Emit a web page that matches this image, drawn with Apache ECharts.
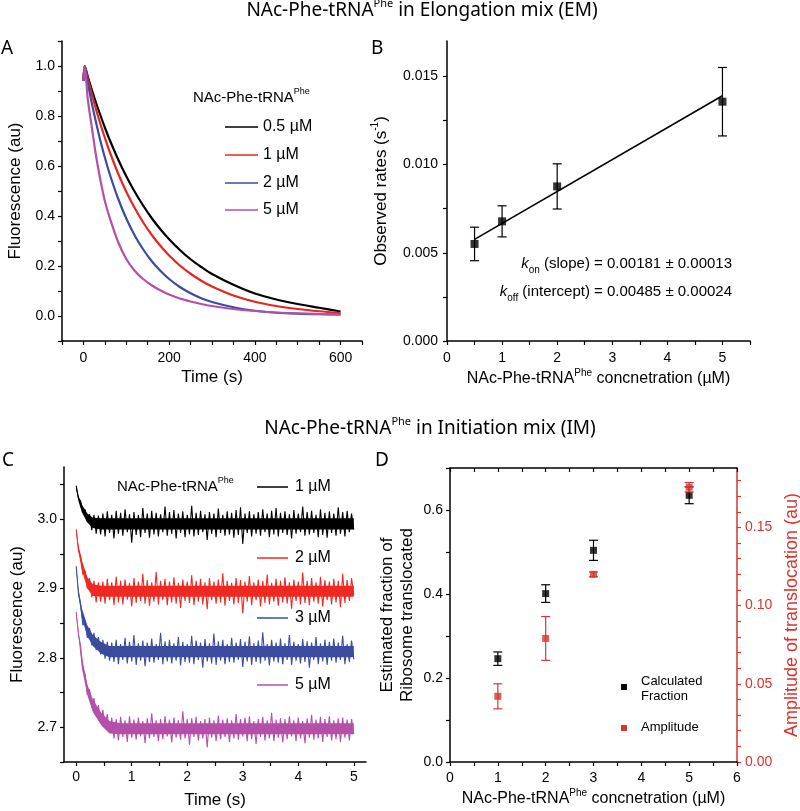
<!DOCTYPE html>
<html><head><meta charset="utf-8">
<script src="https://cdn.jsdelivr.net/npm/echarts@6/dist/echarts.min.js"></script>
<style>html,body{margin:0;padding:0;background:#fff}#c{width:800px;height:811px}</style>
</head><body><div id="c"></div>
<script>
// ---------- Panel A : EM fluorescence decays ----------
const aTimes = [0,3,10,20,30,40,50,60,80,100,120,140,160,180,200,225,250,275,300,350,400,450,500,550,600];
const aConc05 = [0.94,1.0,0.959,0.903,0.850,0.801,0.754,0.710,0.630,0.559,0.496,0.440,0.390,0.346,0.307,0.264,0.227,0.196,0.168,0.125,0.090,0.066,0.048,0.033,0.018];
const aConc1  = [0.94,1.0,0.951,0.885,0.823,0.766,0.713,0.663,0.574,0.497,0.431,0.373,0.323,0.280,0.242,0.202,0.169,0.141,0.118,0.082,0.057,0.040,0.028,0.019,0.012];
const aConc2  = [0.94,1.0,0.934,0.848,0.770,0.698,0.634,0.575,0.474,0.390,0.321,0.265,0.218,0.180,0.148,0.116,0.091,0.071,0.056,0.035,0.021,0.013,0.009,0.007,0.006];
const aConc5  = [0.94,1.0,0.87,0.75,0.635,0.54,0.46,0.40,0.30,0.228,0.180,0.147,0.122,0.102,0.086,0.070,0.058,0.048,0.040,0.028,0.020,0.014,0.011,0.008,0.006];
const aXLabels = [0,200,400,600];
const aYLabels = [0,0.2,0.4,0.6,0.8,1.0];

// ---------- Panel B : observed rates ----------
const bConc = [0.5,1,2,5];
const bRate = [0.0055,0.00678,0.00876,0.01356];
const bErr  = [0.00095,0.00088,0.00128,0.00194];
const bFitX = [0.5,5];
const bFitY = [0.00576,0.01390];
const bXLabels = [0,1,2,3,4,5];
const bYLabels = [0,0.005,0.010,0.015];

// ---------- Panel C : IM fluorescence traces (sampled every 0.04 s) ----------
const cStep = 0.04;
const cConc1 = [3.048,3.030,3.026,3.010,3.014,2.996,3.007,2.984,3.006,2.979,3.005,
2.978,3.008,2.975,3.011,2.980,3.006,2.972,3.012,2.979,3.009,
2.976,3.014,2.981,3.007,2.966,3.010,2.977,3.006,2.974,3.016,
2.980,3.008,2.973,3.012,2.978,3.009,2.975,3.007,2.981,3.018,
2.976,3.010,2.979,3.013,2.972,3.008,2.980,3.011,2.974,3.006,
2.978,3.019,2.975,3.009,2.977,3.012,2.981,3.007,2.970,3.010,
2.979,3.008,2.974,3.015,2.980,3.006,2.976,3.011,2.978,3.009,
2.973,3.013,2.977,3.017,2.964,3.008,2.980,3.011,2.975,3.007,
2.979,3.010,2.976,3.014,2.981,3.008,2.974,3.012,2.978,3.016,
2.975,3.009,2.980,3.011,2.977,3.007,2.972,3.013,2.979,3.008,
2.981,3.018,2.976,3.010,2.978,3.012,2.980,3.006,2.974,3.014,
2.977,3.009,2.973,3.011,2.980,3.008,2.976,3.017,2.979,3.010,
2.975,3.012,2.981,3.008,2.985];
const cConc2 = [2.985,2.954,2.947,2.920,2.926,2.900,2.915,2.887,2.911,2.880,2.909,
2.881,2.910,2.878,2.914,2.883,2.909,2.876,2.917,2.880,2.911,
2.877,2.913,2.884,2.908,2.874,2.915,2.879,2.910,2.882,2.921,
2.878,2.912,2.875,2.909,2.881,2.924,2.877,2.911,2.883,2.914,
2.876,2.910,2.880,2.916,2.878,2.908,2.872,2.913,2.882,2.910,
2.879,2.919,2.876,2.911,2.881,2.914,2.877,2.909,2.870,2.915,
2.883,2.910,2.878,2.913,2.880,2.922,2.875,2.911,2.882,2.908,
2.877,2.915,2.879,2.912,2.864,2.910,2.881,2.918,2.876,2.909,
2.883,2.913,2.874,2.911,2.879,2.920,2.877,2.908,2.881,2.914,
2.875,2.911,2.880,2.916,2.878,2.909,2.871,2.913,2.882,2.910,
2.877,2.923,2.879,2.911,2.876,2.915,2.881,2.909,2.878,2.917,
2.874,2.912,2.883,2.910,2.877,2.914,2.880,2.911,2.873,2.921,
2.879,2.912,2.882,2.915,2.890];
const cConc3 = [2.932,2.893,2.877,2.847,2.852,2.829,2.843,2.818,2.836,2.811,2.830,2.805,2.826,2.799,2.823,2.796,
2.822,2.794,2.826,2.791,2.820,2.797,2.829,2.792,2.823,2.795,
2.833,2.790,2.821,2.796,2.825,2.788,2.822,2.794,2.828,2.793,
2.820,2.797,2.836,2.791,2.824,2.795,2.826,2.792,2.821,2.796,
2.830,2.789,2.823,2.794,2.820,2.793,2.832,2.791,2.825,2.797,
2.822,2.786,2.827,2.795,2.821,2.792,2.835,2.790,2.824,2.796,
2.826,2.791,2.820,2.794,2.829,2.793,2.822,2.797,2.827,2.787,
2.823,2.795,2.831,2.790,2.821,2.794,2.825,2.792,2.837,2.796,
2.820,2.789,2.826,2.795,2.822,2.793,2.828,2.791,2.821,2.797,
2.833,2.790,2.823,2.796,2.820,2.792,2.827,2.794,2.824,2.786,
2.822,2.797,2.830,2.791,2.821,2.795,2.826,2.790,2.823,2.796,
2.828,2.793,2.822,2.797,2.832,2.791,2.820,2.794,2.825,2.798];
const cConc5 = [2.866,2.834,2.817,2.784,2.776,2.747,2.755,2.728,2.742,2.716,2.732,2.707,2.725,2.700,2.719,2.692,2.714,
2.684,2.712,2.681,2.715,2.686,2.710,2.679,2.716,2.685,2.711,
2.682,2.714,2.687,2.709,2.677,2.713,2.684,2.720,2.686,2.710,
2.680,2.712,2.683,2.716,2.687,2.711,2.678,2.714,2.685,2.710,
2.682,2.723,2.684,2.712,2.675,2.713,2.686,2.715,2.681,2.709,
2.684,2.712,2.671,2.714,2.685,2.710,2.680,2.717,2.683,2.711,
2.686,2.713,2.679,2.710,2.684,2.719,2.682,2.712,2.687,2.714,
2.680,2.716,2.683,2.709,2.676,2.712,2.686,2.715,2.681,2.710,
2.684,2.721,2.680,2.711,2.685,2.713,2.678,2.712,2.683,2.716,
2.687,2.710,2.680,2.714,2.684,2.709,2.677,2.713,2.685,2.718,
2.682,2.711,2.684,2.715,2.679,2.712,2.686,2.716,2.681,2.710,
2.683,2.713,2.679,2.714,2.685,2.711,2.681,2.712,2.690];
// dense core of each noisy trace (lower / upper envelope)
const cEnvT = [0,0.04,0.1,0.2,0.3,0.45,0.6,0.8,5.0];
const cEnv1Lo = [3.042,3.026,3.010,2.995,2.987,2.985,2.985,2.985,2.985];
const cEnv1Hi = [3.049,3.034,3.021,3.008,3.002,3.001,3.001,3.001,3.001];
const cEnv2Lo = [2.981,2.953,2.927,2.900,2.889,2.888,2.888,2.888,2.888];
const cEnv2Hi = [2.987,2.963,2.941,2.916,2.906,2.904,2.904,2.904,2.904];
const cEnv3Lo = [2.927,2.890,2.858,2.831,2.817,2.806,2.801,2.801,2.801];
const cEnv3Hi = [2.933,2.900,2.872,2.847,2.833,2.823,2.817,2.817,2.817];
const cEnv5Lo = [2.862,2.831,2.786,2.746,2.722,2.703,2.691,2.690,2.690];
const cEnv5Hi = [2.868,2.841,2.802,2.762,2.740,2.721,2.709,2.706,2.706];
const cXLabels = [0,1,2,3,4,5];
const cYLabels = [2.7,2.8,2.9,3.0];

// ---------- Panel D : fraction translocated / amplitude ----------
const dConc = [1,2,3,5];
const dFraction = [0.246,0.401,0.504,0.635];
const dFractionErr = [0.016,0.021,0.024,0.020];
const dAmplitude = [0.042,0.079,0.120,0.1757];
const dAmplitudeErr = [0.008,0.014,0.0015,0.003];
const dXLabels = [0,1,2,3,4,5,6];
const dYLabels = [0,0.2,0.4,0.6];
const dY2Labels = [0,0.05,0.10,0.15];

// ---------- helpers ----------
const FF = '"Liberation Sans", Arial, sans-serif';
const C_BLACK = '#000000', C_RED = '#e8261f', C_BLUE = '#3b4c9f', C_MAG = '#b550aa', C_DRED = '#d8352d', C_RED2 = '#ef2a22';
function range(a, b, s) { const r = []; for (let v = a; v <= b + s * 1e-6; v += s) r.push(+v.toFixed(6)); return r; }
function pairs(xs, ys) { return xs.map((x, i) => [x, ys[i]]); }
function stepPairs(ys, step) { return ys.map((y, i) => [+(i * step).toFixed(4), y]); }
const supRich = (base, sup, color) => ({
  n: {fontSize: base, fontFamily: FF, lineHeight: base + 6, color: color || '#000'},
  s: {fontSize: sup, fontFamily: FF, lineHeight: sup + 1, verticalAlign: 'top', color: color || '#000'}
});
function valAxis(o) {
  return {
    type: 'value', gridIndex: o.grid, min: o.min, max: o.max, position: o.position,
    name: o.name || '', nameLocation: 'middle', nameGap: o.nameGap || 0,
    nameTextStyle: Object.assign({fontSize: 17, fontFamily: FF, color: o.color || '#000'}, o.nameStyle || {}),
    axisLine: {show: true, onZero: false, lineStyle: {color: o.color || '#000', width: 1.5}},
    axisTick: {show: true, inside: !!o.tickInside, length: 4, customValues: o.ticks, lineStyle: {color: o.color || '#000', width: 1.2}},
    axisLabel: {show: o.labels !== null, customValues: o.labels || [], margin: o.margin || 8, fontSize: 14, fontFamily: FF,
      color: o.color || '#000', formatter: o.fmt},
    splitLine: {show: false}, minorTick: {show: false}, minorSplitLine: {show: false}
  };
}
function errorBars(xs, ys, errs, color, xi, yi, capHalf, z) {
  return {
    type: 'custom', xAxisIndex: xi, yAxisIndex: yi, silent: true, z: z,
    data: xs.map((x, i) => [x, ys[i] - errs[i], ys[i] + errs[i]]),
    encode: {x: 0, y: [1, 2]},
    renderItem(params, api) {
      const lo = api.coord([api.value(0), api.value(1)]);
      const hi = api.coord([api.value(0), api.value(2)]);
      const st = {stroke: color, lineWidth: 1.2, fill: null};
      return {type: 'group', children: [
        {type: 'line', shape: {x1: lo[0], y1: lo[1], x2: hi[0], y2: hi[1]}, style: st},
        {type: 'line', shape: {x1: lo[0] - capHalf, y1: lo[1], x2: lo[0] + capHalf, y2: lo[1]}, style: st},
        {type: 'line', shape: {x1: hi[0] - capHalf, y1: hi[1], x2: hi[0] + capHalf, y2: hi[1]}, style: st}
      ]};
    }
  };
}
function band(times, lo, hi, color, xi, yi) {
  return {
    type: 'custom', xAxisIndex: xi, yAxisIndex: yi, silent: true, z: 1,
    data: times.map((t, i) => [t, lo[i], hi[i]]),
    encode: {x: 0, y: [1, 2]},
    renderItem(params, api) {
      if (params.dataIndex !== 0) return null;
      const pts = [];
      for (let i = 0; i < times.length; i++) pts.push(api.coord([times[i], hi[i]]));
      for (let i = times.length - 1; i >= 0; i--) pts.push(api.coord([times[i], lo[i]]));
      return {type: 'polygon', shape: {points: pts}, style: {fill: color}};
    }
  };
}
function noisy(name, ys, color) {
  return {type: 'line', name: name, xAxisIndex: 2, yAxisIndex: 2, data: stepPairs(ys, cStep), showSymbol: false,
    sampling: null, z: 2, lineStyle: {color: color, width: 1.1}};
}
function txt(text, x, y, o) {
  return {type: 'text', x: x, y: y, silent: true, z: 100,
    style: Object.assign({text: text, fill: '#000', fontSize: 14, fontFamily: FF, align: 'left', verticalAlign: 'middle'}, o || {})};
}
function legLine(x1, x2, y, color) {
  return {type: 'line', silent: true, z: 100, shape: {x1: x1, y1: y, x2: x2, y2: y}, style: {stroke: color, lineWidth: 1.5}};
}
const TF = '"Noto Sans", "Open Sans", sans-serif';
const titleRich = {n: {fontSize: 19, fontFamily: TF, lineHeight: 26}, s: {fontSize: 11, fontFamily: TF, lineHeight: 13, verticalAlign: 'top'}};

const chart = echarts.init(document.getElementById('c'), null, {renderer: 'canvas'});
const option = {
  animation: false,
  backgroundColor: '#ffffff',
  grid: [
    {left: 62, top: 41, width: 300, height: 300, containLabel: false, outerBoundsMode: 'none'},
    {left: 447, top: 41, width: 303, height: 300, containLabel: false, outerBoundsMode: 'none'},
    {left: 64, top: 467, width: 302, height: 295, containLabel: false, outerBoundsMode: 'none'},
    {left: 450, top: 468, width: 287, height: 294, containLabel: false, outerBoundsMode: 'none'}
  ],
  xAxis: [
    valAxis({grid: 0, min: -50, max: 650, position: 'bottom', ticks: range(-50, 650, 50), labels: aXLabels, margin: 10,
      name: 'Time (s)', nameGap: 28}),
    valAxis({grid: 1, min: 0, max: 5.5, position: 'bottom', ticks: range(0, 5.5, 0.5), labels: bXLabels, margin: 10,
      name: '{n|NAc-Phe-tRNA}{s|Phe}{n| concnetration (µM)}', nameGap: 27, nameStyle: {rich: supRich(16, 10)}}),
    valAxis({grid: 2, min: -0.22, max: 5.22, position: 'bottom', ticks: range(0, 5, 0.5), labels: cXLabels, margin: 8,
      name: 'Time (s)', nameGap: 30}),
    valAxis({grid: 3, min: 0, max: 6, position: 'bottom', ticks: range(0, 6, 0.5), labels: dXLabels, margin: 9,
      name: '{n|NAc-Phe-tRNA}{s|Phe}{n| concnetration (µM)}', nameGap: 26, nameStyle: {rich: supRich(16, 10)}}),
    valAxis({grid: 3, min: 0, max: 6, position: 'top', ticks: range(0, 6, 0.5), labels: null, tickInside: true})
  ],
  yAxis: [
    valAxis({grid: 0, min: -0.1, max: 1.1, position: 'left', ticks: range(-0.1, 1.1, 0.1), labels: aYLabels, margin: 7,
      fmt: v => v.toFixed(1), name: 'Fluorescence (au)', nameGap: 38}),
    valAxis({grid: 1, min: 0, max: 0.017, position: 'left', ticks: range(0, 0.015, 0.0025), labels: bYLabels, margin: 9,
      fmt: v => v.toFixed(3), name: '{n|Observed rates (s}{s|-1}{n|)}', nameGap: 54, nameStyle: {rich: supRich(17, 10)}}),
    valAxis({grid: 2, min: 2.65, max: 3.075, position: 'left', ticks: range(2.65, 3.05, 0.05), labels: cYLabels, margin: 7,
      fmt: v => v.toFixed(1), name: 'Fluorescence (au)', nameGap: 38}),
    valAxis({grid: 3, min: 0, max: 0.7, position: 'left', ticks: range(0, 0.7, 0.1), labels: dYLabels, margin: 7,
      fmt: v => v.toFixed(1), name: 'Estimated fraction of\nRibosome translocated', nameGap: 33,
      nameStyle: {lineHeight: 20}}),
    valAxis({grid: 3, min: 0, max: 0.188, position: 'right', ticks: range(0, 0.18, 0.01), labels: dY2Labels, margin: 8,
      fmt: v => v.toFixed(2), color: C_DRED, name: 'Amplitude of translocation (au)', nameGap: 46,
      nameStyle: {fontSize: 18}})
  ],
  series: [
    // Panel A
    {type: 'line', name: 'A 0.5 µM', xAxisIndex: 0, yAxisIndex: 0, data: pairs(aTimes, aConc05), smooth: 0.3, showSymbol: false,
      lineStyle: {color: C_BLACK, width: 2.2}, itemStyle: {color: C_BLACK}},
    {type: 'line', name: 'A 1 µM', xAxisIndex: 0, yAxisIndex: 0, data: pairs(aTimes, aConc1), smooth: 0.3, showSymbol: false,
      lineStyle: {color: C_RED, width: 2.2}, itemStyle: {color: C_RED}},
    {type: 'line', name: 'A 2 µM', xAxisIndex: 0, yAxisIndex: 0, data: pairs(aTimes, aConc2), smooth: 0.3, showSymbol: false,
      lineStyle: {color: C_BLUE, width: 2.2}, itemStyle: {color: C_BLUE}},
    {type: 'line', name: 'A 5 µM', xAxisIndex: 0, yAxisIndex: 0, data: pairs(aTimes, aConc5), smooth: 0.3, showSymbol: false,
      lineStyle: {color: C_MAG, width: 2.2}, itemStyle: {color: C_MAG}},
    // Panel B
    {type: 'line', name: 'B fit', xAxisIndex: 1, yAxisIndex: 1, data: pairs(bFitX, bFitY), showSymbol: false,
      lineStyle: {color: '#000', width: 1.6}, z: 2},
    errorBars(bConc, bRate, bErr, '#000', 1, 1, 4.5, 3),
    {type: 'scatter', name: 'B rates', xAxisIndex: 1, yAxisIndex: 1, data: pairs(bConc, bRate), symbol: 'rect', symbolSize: 8,
      itemStyle: {color: '#000'}, z: 4},
    // Panel C
    band(cEnvT, cEnv1Lo, cEnv1Hi, C_BLACK, 2, 2),
    band(cEnvT, cEnv2Lo, cEnv2Hi, C_RED2, 2, 2),
    band(cEnvT, cEnv3Lo, cEnv3Hi, C_BLUE, 2, 2),
    band(cEnvT, cEnv5Lo, cEnv5Hi, C_MAG, 2, 2),
    noisy('C 1 µM', cConc1, C_BLACK),
    noisy('C 2 µM', cConc2, C_RED2),
    noisy('C 3 µM', cConc3, C_BLUE),
    noisy('C 5 µM', cConc5, C_MAG),
    // Panel D
    errorBars(dConc, dFraction, dFractionErr, '#000', 3, 3, 4.5, 3),
    {type: 'scatter', name: 'Calculated Fraction', xAxisIndex: 3, yAxisIndex: 3, data: pairs(dConc, dFraction), symbol: 'rect',
      symbolSize: 7, itemStyle: {color: '#000'}, z: 4},
    errorBars(dConc, dAmplitude, dAmplitudeErr, C_DRED, 3, 4, 4.5, 5),
    {type: 'scatter', name: 'Amplitude', xAxisIndex: 3, yAxisIndex: 4, data: pairs(dConc, dAmplitude), symbol: 'rect',
      symbolSize: 7, itemStyle: {color: C_DRED}, z: 6}
  ],
  graphic: [
    // titles
    txt('{n|NAc-Phe-tRNA}{s|Phe}{n| in Elongation mix (EM)}', 422, 11, {align: 'center', rich: titleRich, fontFamily: TF}),
    txt('{n|NAc-Phe-tRNA}{s|Phe}{n| in Initiation mix (IM)}', 430, 429, {align: 'center', rich: titleRich, fontFamily: TF}),
    // panel letters
    txt('A', 1, 49, {fontSize: 19, fontFamily: TF}),
    txt('B', 371, 49, {fontSize: 19, fontFamily: TF}),
    txt('C', 2, 461, {fontSize: 19, fontFamily: TF}),
    txt('D', 375, 461, {fontSize: 19, fontFamily: TF}),
    // Panel A legend
    txt('{n|NAc-Phe-tRNA}{s|Phe}', 193, 98, {rich: supRich(15, 9)}),
    legLine(225, 258, 127, C_BLACK), txt('0.5 µM', 263, 127, {fontSize: 16}),
    legLine(225, 258, 155, C_RED), txt('1 µM', 263, 155, {fontSize: 16}),
    legLine(225, 258, 183, C_BLUE), txt('2 µM', 263, 183, {fontSize: 16}),
    legLine(225, 258, 210, C_MAG), txt('5 µM', 263, 210, {fontSize: 16}),
    // Panel B annotations
    txt('{k|k}{sub|on}{n| (slope) = 0.00181 ± 0.00013}', 732, 264, {align: 'right', rich: {
      k: {fontSize: 15, fontFamily: FF, fontStyle: 'italic', lineHeight: 22},
      sub: {fontSize: 10, fontFamily: FF, lineHeight: 10, verticalAlign: 'bottom'},
      n: {fontSize: 15, fontFamily: FF, lineHeight: 22}}}),
    txt('{k|k}{sub|off}{n| (intercept) = 0.00485 ± 0.00024}', 732, 292, {align: 'right', rich: {
      k: {fontSize: 15, fontFamily: FF, fontStyle: 'italic', lineHeight: 22},
      sub: {fontSize: 10, fontFamily: FF, lineHeight: 10, verticalAlign: 'bottom'},
      n: {fontSize: 15, fontFamily: FF, lineHeight: 22}}}),
    // Panel C legend
    txt('{n|NAc-Phe-tRNA}{s|Phe}', 117, 487, {rich: supRich(15, 9)}),
    legLine(257, 288, 487, C_BLACK), txt('1 µM', 295, 487, {fontSize: 16}),
    legLine(257, 288, 558, C_RED2), txt('2 µM', 295, 558, {fontSize: 16}),
    legLine(257, 288, 618, C_BLUE), txt('3 µM', 295, 618, {fontSize: 16}),
    legLine(257, 288, 685, C_MAG), txt('5 µM', 295, 685, {fontSize: 16}),
    // Panel D legend
    {type: 'rect', silent: true, z: 100, shape: {x: 621, y: 684, width: 6, height: 6}, style: {fill: '#000'}},
    txt('Calculated', 641, 681, {fontSize: 13}),
    txt('Fraction', 641, 696, {fontSize: 13}),
    {type: 'rect', silent: true, z: 100, shape: {x: 621, y: 725, width: 6, height: 6}, style: {fill: C_DRED}},
    txt('Amplitude', 641, 727, {fontSize: 13})
  ]
};
chart.setOption(option);
</script></body></html>
